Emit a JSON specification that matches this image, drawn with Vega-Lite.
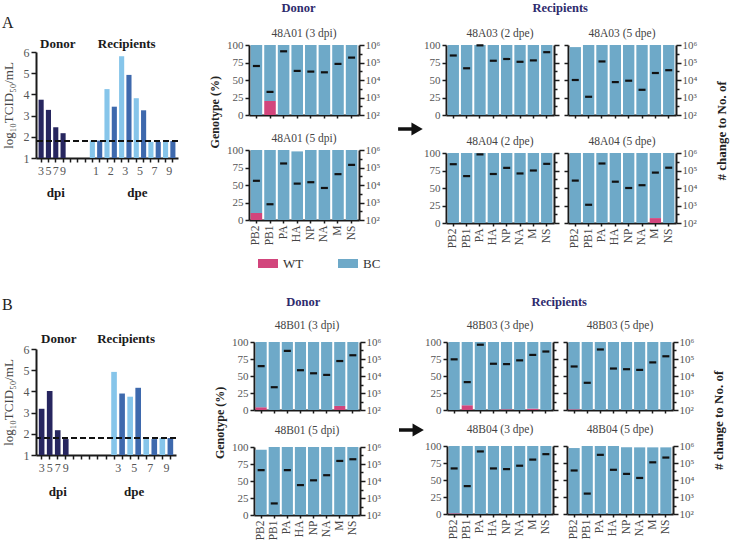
{
"$schema": "https://vega.github.io/schema/vega-lite/v6.json",
"background": "white",
"padding": {"left": 2, "top": 2, "right": 2, "bottom": 1},
"spacing": 25,
"resolve": {"scale": {"color": "independent"}},
"datasets": {
"titerA": [
{"slot":"d3","grp":"donor","v":3.75},{"slot":"d5","grp":"donor","v":3.27},{"slot":"d7","grp":"donor","v":2.45},{"slot":"d9","grp":"donor","v":2.17},
{"slot":"r1L","grp":"light","v":1.82},{"slot":"r1D","grp":"dark","v":1.82},{"slot":"r2L","grp":"light","v":4.25},{"slot":"r2D","grp":"dark","v":3.42},
{"slot":"r3L","grp":"light","v":5.8},{"slot":"r3D","grp":"dark","v":4.92},{"slot":"r5L","grp":"light","v":3.82},{"slot":"r5D","grp":"dark","v":3.25},
{"slot":"r7L","grp":"light","v":1.76},{"slot":"r7D","grp":"dark","v":1.76},{"slot":"r9L","grp":"light","v":1.78},{"slot":"r9D","grp":"dark","v":1.8}],
"titerB": [
{"slot":"d3","grp":"donor","v":3.18},{"slot":"d5","grp":"donor","v":4.02},{"slot":"d7","grp":"donor","v":2.17},{"slot":"d9","grp":"donor","v":1.75},
{"slot":"r3L","grp":"light","v":4.92},{"slot":"r3D","grp":"dark","v":3.9},{"slot":"r5L","grp":"light","v":3.75},{"slot":"r5D","grp":"dark","v":4.17},
{"slot":"r7L","grp":"light","v":1.75},{"slot":"r7D","grp":"dark","v":1.75},{"slot":"r9L","grp":"light","v":1.8},{"slot":"r9D","grp":"dark","v":1.8}],
"geno": [
{"s":"A01_3","g":"PB2","wt":0,"bc":100,"n":63100},{"s":"A01_3","g":"PB1","wt":20,"bc":80,"n":2090},{"s":"A01_3","g":"PA","wt":0,"bc":100,"n":436500},{"s":"A01_3","g":"HA","wt":0,"bc":100,"n":33100},{"s":"A01_3","g":"NP","wt":0,"bc":100,"n":30200},{"s":"A01_3","g":"NA","wt":0,"bc":100,"n":27500},{"s":"A01_3","g":"M","wt":0,"bc":100,"n":83200},{"s":"A01_3","g":"NS","wt":0,"bc":100,"n":190500},
{"s":"A01_5","g":"PB2","wt":10,"bc":90,"n":17400},{"s":"A01_5","g":"PB1","wt":0,"bc":100,"n":795},{"s":"A01_5","g":"PA","wt":0,"bc":100,"n":169800},{"s":"A01_5","g":"HA","wt":0,"bc":98,"n":12000},{"s":"A01_5","g":"NP","wt":0,"bc":100,"n":14450},{"s":"A01_5","g":"NA","wt":0,"bc":100,"n":6760},{"s":"A01_5","g":"M","wt":0,"bc":100,"n":41700},{"s":"A01_5","g":"NS","wt":0,"bc":100,"n":141300},
{"s":"A03_2","g":"PB2","wt":0,"bc":100,"n":251200},{"s":"A03_2","g":"PB1","wt":0,"bc":100,"n":46800},{"s":"A03_2","g":"PA","wt":0,"bc":100,"n":955000},{"s":"A03_2","g":"HA","wt":0,"bc":100,"n":125900},{"s":"A03_2","g":"NP","wt":0,"bc":100,"n":158500},{"s":"A03_2","g":"NA","wt":0,"bc":100,"n":109600},{"s":"A03_2","g":"M","wt":0,"bc":100,"n":131800},{"s":"A03_2","g":"NS","wt":0,"bc":100,"n":389000},
{"s":"A03_5","g":"PB2","wt":0,"bc":97,"n":10000},{"s":"A03_5","g":"PB1","wt":0,"bc":100,"n":1100},{"s":"A03_5","g":"PA","wt":0,"bc":100,"n":114800},{"s":"A03_5","g":"HA","wt":0,"bc":100,"n":7590},{"s":"A03_5","g":"NP","wt":0,"bc":100,"n":9120},{"s":"A03_5","g":"NA","wt":0,"bc":100,"n":2750},{"s":"A03_5","g":"M","wt":0,"bc":100,"n":25100},{"s":"A03_5","g":"NS","wt":0,"bc":100,"n":36300},
{"s":"A04_2","g":"PB2","wt":0,"bc":100,"n":229000},{"s":"A04_2","g":"PB1","wt":0,"bc":100,"n":47900},{"s":"A04_2","g":"PA","wt":0,"bc":100,"n":832000},{"s":"A04_2","g":"HA","wt":0,"bc":100,"n":63100},{"s":"A04_2","g":"NP","wt":0,"bc":100,"n":141300},{"s":"A04_2","g":"NA","wt":0,"bc":100,"n":67600},{"s":"A04_2","g":"M","wt":0,"bc":100,"n":100000},{"s":"A04_2","g":"NS","wt":0,"bc":100,"n":240000},
{"s":"A04_5","g":"PB2","wt":0,"bc":100,"n":26500},{"s":"A04_5","g":"PB1","wt":0,"bc":100,"n":1100},{"s":"A04_5","g":"PA","wt":0,"bc":100,"n":251200},{"s":"A04_5","g":"HA","wt":0,"bc":100,"n":22900},{"s":"A04_5","g":"NP","wt":0,"bc":100,"n":10000},{"s":"A04_5","g":"NA","wt":0,"bc":100,"n":14450},{"s":"A04_5","g":"M","wt":7,"bc":93,"n":75900},{"s":"A04_5","g":"NS","wt":0,"bc":100,"n":144500},
{"s":"B01_3","g":"PB2","wt":4,"bc":96,"n":38000},{"s":"B01_3","g":"PB1","wt":0,"bc":100,"n":2190},{"s":"B01_3","g":"PA","wt":0,"bc":100,"n":302000},{"s":"B01_3","g":"HA","wt":0,"bc":100,"n":21900},{"s":"B01_3","g":"NP","wt":0,"bc":100,"n":14450},{"s":"B01_3","g":"NA","wt":0,"bc":100,"n":11600},{"s":"B01_3","g":"M","wt":6,"bc":94,"n":75900},{"s":"B01_3","g":"NS","wt":0,"bc":100,"n":166000},
{"s":"B01_5","g":"PB2","wt":0,"bc":96,"n":43700},{"s":"B01_5","g":"PB1","wt":0,"bc":100,"n":479},{"s":"B01_5","g":"PA","wt":0,"bc":100,"n":43700},{"s":"B01_5","g":"HA","wt":0,"bc":100,"n":5750},{"s":"B01_5","g":"NP","wt":0,"bc":100,"n":10960},{"s":"B01_5","g":"NA","wt":0,"bc":100,"n":21900},{"s":"B01_5","g":"M","wt":0,"bc":100,"n":151400},{"s":"B01_5","g":"NS","wt":0,"bc":100,"n":190500},
{"s":"B03_3","g":"PB2","wt":0,"bc":100,"n":95500},{"s":"B03_3","g":"PB1","wt":7,"bc":93,"n":4370},{"s":"B03_3","g":"PA","wt":0,"bc":100,"n":692000},{"s":"B03_3","g":"HA","wt":0,"bc":100,"n":52500},{"s":"B03_3","g":"NP","wt":1,"bc":99,"n":50100},{"s":"B03_3","g":"NA","wt":0,"bc":100,"n":83200},{"s":"B03_3","g":"M","wt":2,"bc":98,"n":173800},{"s":"B03_3","g":"NS","wt":0,"bc":100,"n":275400},
{"s":"B03_5","g":"PB2","wt":1,"bc":99,"n":36300},{"s":"B03_5","g":"PB1","wt":0,"bc":100,"n":3980},{"s":"B03_5","g":"PA","wt":0,"bc":100,"n":363000},{"s":"B03_5","g":"HA","wt":0,"bc":100,"n":27500},{"s":"B03_5","g":"NP","wt":0,"bc":100,"n":25100},{"s":"B03_5","g":"NA","wt":0,"bc":100,"n":22900},{"s":"B03_5","g":"M","wt":0,"bc":100,"n":63100},{"s":"B03_5","g":"NS","wt":0,"bc":100,"n":144500},
{"s":"B04_3","g":"PB2","wt":1,"bc":99,"n":47900},{"s":"B04_3","g":"PB1","wt":0,"bc":100,"n":4370},{"s":"B04_3","g":"PA","wt":0,"bc":100,"n":478600},{"s":"B04_3","g":"HA","wt":0,"bc":100,"n":47900},{"s":"B04_3","g":"NP","wt":0,"bc":100,"n":43700},{"s":"B04_3","g":"NA","wt":0,"bc":100,"n":69200},{"s":"B04_3","g":"M","wt":0,"bc":100,"n":158500},{"s":"B04_3","g":"NS","wt":0,"bc":100,"n":331100},
{"s":"B04_5","g":"PB2","wt":0,"bc":97,"n":36300},{"s":"B04_5","g":"PB1","wt":0,"bc":100,"n":1585},{"s":"B04_5","g":"PA","wt":0,"bc":100,"n":302000},{"s":"B04_5","g":"HA","wt":0,"bc":100,"n":39800},{"s":"B04_5","g":"NP","wt":0,"bc":98,"n":22900},{"s":"B04_5","g":"NA","wt":0,"bc":98,"n":13200},{"s":"B04_5","g":"M","wt":0,"bc":98,"n":109600},{"s":"B04_5","g":"NS","wt":0,"bc":98,"n":208900}
]
},
"vconcat": [
{
"hconcat": [
{
"width": 142, "height": 113,
"title": {"text": "A", "anchor": "start", "frame": "bounds", "fontSize": 16, "color": "#222", "offset": 7},
"layer": [
{"data": {"name": "titerA"}, "mark": {"type": "bar"},
 "encoding": {
  "x": {"field": "slot", "type": "nominal", "scale": {"domain": ["d3","d5","d7","d9","g1","g2","g3","r1L","r1D","r2L","r2D","r3L","r3D","r5L","r5D","r7L","r7D","r9L","r9D"], "paddingInner": 0.3, "paddingOuter": 0.35},
   "axis": {"title": null, "labelAngle": 0, "labelFontSize": 12, "tickSize": 4, "labelPadding": 3,
    "labelExpr": "substring(datum.value,0,1)=='g' || substring(datum.value,2,3)=='D' ? '' : substring(datum.value,1,2)",
    "labelOffset": {"condition": {"test": "substring(datum.value,0,1)=='r'", "value": 3.7}, "value": 0}}},
  "y": {"field": "v", "type": "quantitative", "scale": {"domain": [1, 6], "range": [113, 7], "zero": false, "nice": false},
   "axis": {"values": [1,2,3,4,5,6], "labelOverlap": false, "labelSeparation": -30, "title": "log₁₀TCID₅₀/mL", "titleFontSize": 13, "titleFontWeight": "normal", "titleColor": "#444", "labelFontSize": 12, "tickSize": 5, "titlePadding": 8}},
  "y2": {"datum": 1},
  "color": {"field": "grp", "type": "nominal", "scale": {"domain": ["donor","light","dark"], "range": ["#27265f","#86c5ea","#3e69ad"]}, "legend": null}
 }},
{"data": {"values": [{}]}, "mark": {"type": "rule", "strokeDash": [6,3], "strokeWidth": 2, "color": "#111"}, "encoding": {"y": {"datum": 1.8, "type": "quantitative", "axis": {"values": [1,2,3,4,5,6], "labelOverlap": false, "labelSeparation": -30}}}},
{"data": {"values": [{}]}, "mark": {"type": "text", "fontWeight": "bold", "fontSize": 13, "color": "#1a1a1a", "dx": 2, "baseline": "middle"}, "encoding": {"x": {"datum": "d7", "type": "nominal"}, "y": {"datum": 6.38, "type": "quantitative", "axis": {"values": [1,2,3,4,5,6], "labelOverlap": false, "labelSeparation": -30}}, "text": {"value": "Donor"}}},
{"data": {"values": [{}]}, "mark": {"type": "text", "fontWeight": "bold", "fontSize": 13, "color": "#1a1a1a", "dx": 5, "baseline": "middle"}, "encoding": {"x": {"datum": "r3L", "type": "nominal"}, "y": {"datum": 6.38, "type": "quantitative", "axis": {"values": [1,2,3,4,5,6], "labelOverlap": false, "labelSeparation": -30}}, "text": {"value": "Recipients"}}},
{"data": {"values": [{}]}, "mark": {"type": "text", "fontWeight": "bold", "fontSize": 13, "color": "#1a1a1a", "baseline": "middle"}, "encoding": {"x": {"datum": "d7", "type": "nominal"}, "y": {"datum": -0.65, "type": "quantitative", "axis": {"values": [1,2,3,4,5,6], "labelOverlap": false, "labelSeparation": -30}}, "text": {"value": "dpi"}}},
{"data": {"values": [{}]}, "mark": {"type": "text", "fontWeight": "bold", "fontSize": 13, "color": "#1a1a1a", "dx": 1, "baseline": "middle"}, "encoding": {"x": {"datum": "r5L", "type": "nominal"}, "y": {"datum": -0.65, "type": "quantitative", "axis": {"values": [1,2,3,4,5,6], "labelOverlap": false, "labelSeparation": -30}}, "text": {"value": "dpe"}}}
]
},
{
"hconcat": [
{
"hconcat": [
{
"vconcat": [
{
"width": 110, "height": 70,
"title": {"text": "48A01 (3 dpi)", "offset": 0},
"layer": [
{"data": {"name": "geno"}, "transform": [{"filter": "datum.s==='A01_3'"}, {"fold": ["wt","bc"], "as": ["type","pct"]}], "mark": {"type": "bar"},
 "encoding": {"x": {"field": "g", "type": "nominal", "sort": ["PB2","PB1","PA","HA","NP","NA","M","NS"], "scale": {"paddingInner": 0.15, "paddingOuter": 0.12}, "axis": {"title": null, "labels": false, "tickSize": 3}},
  "y": {"field": "pct", "type": "quantitative", "stack": "zero", "scale": {"domain": [0,100], "nice": false}, "axis": {"title": null, "values": [0,25,50,75,100], "tickSize": 4, "labelPadding": 2}},
  "color": {"field": "type", "type": "nominal", "scale": {"domain": ["wt","bc"], "range": ["#d2457c","#6ea9c8"]}, "legend": null},
  "order": {"field": "type", "sort": "descending"}}},
{"data": {"name": "geno"}, "transform": [{"filter": "datum.s==='A01_3'"}], "mark": {"type": "tick", "color": "#111", "thickness": 2.2, "size": 7, "opacity": 1},
 "encoding": {"x": {"field": "g", "type": "nominal", "sort": ["PB2","PB1","PA","HA","NP","NA","M","NS"]},
  "y": {"field": "n", "type": "quantitative", "scale": {"type": "log", "domain": [100, 1000000]},
   "axis": {"orient": "right", "title": null, "values": [100,316.2,1000,3162,10000,31623,100000,316228,1000000], "labelOverlap": false, "labelPadding": 1,
    "labelExpr": "datum.value==100?'10²':datum.value==1000?'10³':datum.value==10000?'10⁴':datum.value==100000?'10⁵':datum.value==1000000?'10⁶':''",
    "tickSize": {"condition": {"test": "datum.value==100||datum.value==1000||datum.value==10000||datum.value==100000||datum.value==1000000", "value": 5}, "value": 3}}}}}
],
"resolve": {"scale": {"y": "independent"}}
},
{
"width": 110, "height": 70,
"title": {"text": "48A01 (5 dpi)", "offset": 0},
"layer": [
{"data": {"name": "geno"}, "transform": [{"filter": "datum.s==='A01_5'"}, {"fold": ["wt","bc"], "as": ["type","pct"]}], "mark": {"type": "bar"},
 "encoding": {"x": {"field": "g", "type": "nominal", "sort": ["PB2","PB1","PA","HA","NP","NA","M","NS"], "scale": {"paddingInner": 0.15, "paddingOuter": 0.12}, "axis": {"title": null, "labelAngle": -90, "labelFontSize": 11.5, "labelColor": "#444", "tickSize": 3, "labelPadding": 2}},
  "y": {"field": "pct", "type": "quantitative", "stack": "zero", "scale": {"domain": [0,100], "nice": false}, "axis": {"title": null, "values": [0,25,50,75,100], "tickSize": 4, "labelPadding": 2}},
  "color": {"field": "type", "type": "nominal", "scale": {"domain": ["wt","bc"], "range": ["#d2457c","#6ea9c8"]}, "legend": null},
  "order": {"field": "type", "sort": "descending"}}},
{"data": {"name": "geno"}, "transform": [{"filter": "datum.s==='A01_5'"}], "mark": {"type": "tick", "color": "#111", "thickness": 2.2, "size": 7, "opacity": 1},
 "encoding": {"x": {"field": "g", "type": "nominal", "sort": ["PB2","PB1","PA","HA","NP","NA","M","NS"]},
  "y": {"field": "n", "type": "quantitative", "scale": {"type": "log", "domain": [100, 1000000]},
   "axis": {"orient": "right", "title": null, "values": [100,316.2,1000,3162,10000,31623,100000,316228,1000000], "labelOverlap": false, "labelPadding": 1,
    "labelExpr": "datum.value==100?'10²':datum.value==1000?'10³':datum.value==10000?'10⁴':datum.value==100000?'10⁵':datum.value==1000000?'10⁶':''",
    "tickSize": {"condition": {"test": "datum.value==100||datum.value==1000||datum.value==10000||datum.value==100000||datum.value==1000000", "value": 5}, "value": 3}}}}}
],
"resolve": {"scale": {"y": "independent"}}
},
{
"width": 130, "height": 9,
"data": {"values": [{"k": "WT"}, {"k": "BC"}]},
"layer": [
{"mark": {"type": "bar", "width": 20},
 "encoding": {"x": {"field": "k", "type": "nominal", "sort": ["WT","BC"], "scale": {"type": "point", "range": [19, 99], "padding": 0}, "axis": null},
  "color": {"field": "k", "type": "nominal", "scale": {"domain": ["WT","BC"], "range": ["#d2457c","#6ea9c8"]}, "legend": null}}},
{"mark": {"type": "text", "align": "left", "dx": 15, "fontSize": 13, "color": "#333", "baseline": "middle"},
 "encoding": {"x": {"field": "k", "type": "nominal", "sort": ["WT","BC"]}, "y": {"value": 4.5}, "text": {"field": "k"}}}
]
}
],
"spacing": 12,
"title": {"text": "Donor", "anchor": "middle", "frame": "bounds", "fontSize": 12.5, "fontWeight": "bold", "color": "#2e2b6d", "offset": 13, "dx": -5},
"resolve": {"scale": {"color": "independent"}}
}
],
"title": {"text": "Genotype (%)", "orient": "left", "anchor": "middle", "frame": "bounds", "fontSize": 12, "fontWeight": "bold", "color": "#222", "offset": 5, "dx": 24},
"resolve": {"scale": {"color": "independent"}}
},
{
"width": 38, "height": 168,
"data": {"values": [{}]},
"layer": [
{"mark": {"type": "rule", "strokeWidth": 3.5, "color": "#111"},
 "encoding": {"x": {"datum": 0.45, "type": "quantitative", "scale": {"domain": [0, 1], "nice": false, "zero": false}, "axis": null}, "x2": {"datum": 0.85},
  "y": {"datum": 0.5, "type": "quantitative", "scale": {"domain": [0, 1], "nice": false, "zero": false}, "axis": null}}},
{"mark": {"type": "point", "shape": "triangle-right", "filled": true, "size": 170, "color": "#111", "opacity": 1},
 "encoding": {"x": {"datum": 0.95, "type": "quantitative"}, "y": {"datum": 0.5, "type": "quantitative"}}}
]
},
{
"hconcat": [
{
"concat": [
{
"width": 108, "height": 70,
"title": {"text": "48A03 (2 dpe)", "offset": 0},
"layer": [
{"data": {"name": "geno"}, "transform": [{"filter": "datum.s==='A03_2'"}, {"fold": ["wt","bc"], "as": ["type","pct"]}], "mark": {"type": "bar"},
 "encoding": {"x": {"field": "g", "type": "nominal", "sort": ["PB2","PB1","PA","HA","NP","NA","M","NS"], "scale": {"paddingInner": 0.15, "paddingOuter": 0.12}, "axis": {"title": null, "labels": false, "tickSize": 3}},
  "y": {"field": "pct", "type": "quantitative", "stack": "zero", "scale": {"domain": [0,100], "nice": false}, "axis": {"title": null, "values": [0,25,50,75,100], "tickSize": 4, "labelPadding": 2}},
  "color": {"field": "type", "type": "nominal", "scale": {"domain": ["wt","bc"], "range": ["#d2457c","#6ea9c8"]}, "legend": null},
  "order": {"field": "type", "sort": "descending"}}},
{"data": {"name": "geno"}, "transform": [{"filter": "datum.s==='A03_2'"}], "mark": {"type": "tick", "color": "#111", "thickness": 2.2, "size": 7, "opacity": 1},
 "encoding": {"x": {"field": "g", "type": "nominal", "sort": ["PB2","PB1","PA","HA","NP","NA","M","NS"]},
  "y": {"field": "n", "type": "quantitative", "scale": {"type": "log", "domain": [100, 1000000]},
   "axis": {"orient": "right", "title": null, "labels": false, "values": [100,316.2,1000,3162,10000,31623,100000,316228,1000000],
    "tickSize": {"condition": {"test": "datum.value==100||datum.value==1000||datum.value==10000||datum.value==100000||datum.value==1000000", "value": 5}, "value": 3}}}}}
],
"resolve": {"scale": {"y": "independent"}}
},
{
"width": 108, "height": 70,
"title": {"text": "48A03 (5 dpe)", "offset": 0},
"layer": [
{"data": {"name": "geno"}, "transform": [{"filter": "datum.s==='A03_5'"}, {"fold": ["wt","bc"], "as": ["type","pct"]}], "mark": {"type": "bar"},
 "encoding": {"x": {"field": "g", "type": "nominal", "sort": ["PB2","PB1","PA","HA","NP","NA","M","NS"], "scale": {"paddingInner": 0.15, "paddingOuter": 0.12}, "axis": {"title": null, "labels": false, "tickSize": 3}},
  "y": {"field": "pct", "type": "quantitative", "stack": "zero", "scale": {"domain": [0,100], "nice": false}, "axis": {"title": null, "values": [0,25,50,75,100], "tickSize": 4, "labels": false}},
  "color": {"field": "type", "type": "nominal", "scale": {"domain": ["wt","bc"], "range": ["#d2457c","#6ea9c8"]}, "legend": null},
  "order": {"field": "type", "sort": "descending"}}},
{"data": {"name": "geno"}, "transform": [{"filter": "datum.s==='A03_5'"}], "mark": {"type": "tick", "color": "#111", "thickness": 2.2, "size": 7, "opacity": 1},
 "encoding": {"x": {"field": "g", "type": "nominal", "sort": ["PB2","PB1","PA","HA","NP","NA","M","NS"]},
  "y": {"field": "n", "type": "quantitative", "scale": {"type": "log", "domain": [100, 1000000]},
   "axis": {"orient": "right", "title": null, "values": [100,316.2,1000,3162,10000,31623,100000,316228,1000000], "labelOverlap": false, "labelPadding": 1,
    "labelExpr": "datum.value==100?'10²':datum.value==1000?'10³':datum.value==10000?'10⁴':datum.value==100000?'10⁵':datum.value==1000000?'10⁶':''",
    "tickSize": {"condition": {"test": "datum.value==100||datum.value==1000||datum.value==10000||datum.value==100000||datum.value==1000000", "value": 5}, "value": 3}}}}}
],
"resolve": {"scale": {"y": "independent"}}
},
{
"width": 108, "height": 70,
"title": {"text": "48A04 (2 dpe)", "offset": 0},
"layer": [
{"data": {"name": "geno"}, "transform": [{"filter": "datum.s==='A04_2'"}, {"fold": ["wt","bc"], "as": ["type","pct"]}], "mark": {"type": "bar"},
 "encoding": {"x": {"field": "g", "type": "nominal", "sort": ["PB2","PB1","PA","HA","NP","NA","M","NS"], "scale": {"paddingInner": 0.15, "paddingOuter": 0.12}, "axis": {"title": null, "labelAngle": -90, "labelFontSize": 11.5, "labelColor": "#444", "tickSize": 3, "labelPadding": 2}},
  "y": {"field": "pct", "type": "quantitative", "stack": "zero", "scale": {"domain": [0,100], "nice": false}, "axis": {"title": null, "values": [0,25,50,75,100], "tickSize": 4, "labelPadding": 2}},
  "color": {"field": "type", "type": "nominal", "scale": {"domain": ["wt","bc"], "range": ["#d2457c","#6ea9c8"]}, "legend": null},
  "order": {"field": "type", "sort": "descending"}}},
{"data": {"name": "geno"}, "transform": [{"filter": "datum.s==='A04_2'"}], "mark": {"type": "tick", "color": "#111", "thickness": 2.2, "size": 7, "opacity": 1},
 "encoding": {"x": {"field": "g", "type": "nominal", "sort": ["PB2","PB1","PA","HA","NP","NA","M","NS"]},
  "y": {"field": "n", "type": "quantitative", "scale": {"type": "log", "domain": [100, 1000000]},
   "axis": {"orient": "right", "title": null, "labels": false, "values": [100,316.2,1000,3162,10000,31623,100000,316228,1000000],
    "tickSize": {"condition": {"test": "datum.value==100||datum.value==1000||datum.value==10000||datum.value==100000||datum.value==1000000", "value": 5}, "value": 3}}}}}
],
"resolve": {"scale": {"y": "independent"}}
},
{
"width": 108, "height": 70,
"title": {"text": "48A04 (5 dpe)", "offset": 0},
"layer": [
{"data": {"name": "geno"}, "transform": [{"filter": "datum.s==='A04_5'"}, {"fold": ["wt","bc"], "as": ["type","pct"]}], "mark": {"type": "bar"},
 "encoding": {"x": {"field": "g", "type": "nominal", "sort": ["PB2","PB1","PA","HA","NP","NA","M","NS"], "scale": {"paddingInner": 0.15, "paddingOuter": 0.12}, "axis": {"title": null, "labelAngle": -90, "labelFontSize": 11.5, "labelColor": "#444", "tickSize": 3, "labelPadding": 2}},
  "y": {"field": "pct", "type": "quantitative", "stack": "zero", "scale": {"domain": [0,100], "nice": false}, "axis": {"title": null, "values": [0,25,50,75,100], "tickSize": 4, "labels": false}},
  "color": {"field": "type", "type": "nominal", "scale": {"domain": ["wt","bc"], "range": ["#d2457c","#6ea9c8"]}, "legend": null},
  "order": {"field": "type", "sort": "descending"}}},
{"data": {"name": "geno"}, "transform": [{"filter": "datum.s==='A04_5'"}], "mark": {"type": "tick", "color": "#111", "thickness": 2.2, "size": 7, "opacity": 1},
 "encoding": {"x": {"field": "g", "type": "nominal", "sort": ["PB2","PB1","PA","HA","NP","NA","M","NS"]},
  "y": {"field": "n", "type": "quantitative", "scale": {"type": "log", "domain": [100, 1000000]},
   "axis": {"orient": "right", "title": null, "values": [100,316.2,1000,3162,10000,31623,100000,316228,1000000], "labelOverlap": false, "labelPadding": 1,
    "labelExpr": "datum.value==100?'10²':datum.value==1000?'10³':datum.value==10000?'10⁴':datum.value==100000?'10⁵':datum.value==1000000?'10⁶':''",
    "tickSize": {"condition": {"test": "datum.value==100||datum.value==1000||datum.value==10000||datum.value==100000||datum.value==1000000", "value": 5}, "value": 3}}}}}
],
"resolve": {"scale": {"y": "independent"}}
}
],
"columns": 2,
"spacing": {"row": 15, "column": 3},
"title": {"text": "Recipients", "anchor": "middle", "frame": "bounds", "fontSize": 12.5, "fontWeight": "bold", "color": "#2e2b6d", "offset": 13},
"resolve": {"scale": {"color": "independent"}}
}
],
"title": {"text": "# change to No. of", "orient": "right", "anchor": "middle", "frame": "bounds", "angle": 270, "baseline": "top", "fontSize": 13, "fontWeight": "bold", "color": "#222", "offset": 6, "dx": -6},
"resolve": {"scale": {"color": "independent"}}
}
],
"spacing": 0,
"resolve": {"scale": {"color": "independent"}}
}
],
"spacing": 29,
"resolve": {"scale": {"color": "independent"}}
},
{
"hconcat": [
{
"width": 140, "height": 113,
"title": {"text": "B", "anchor": "start", "frame": "bounds", "fontSize": 16, "color": "#222", "offset": 20},
"layer": [
{"data": {"name": "titerB"}, "mark": {"type": "bar"},
 "encoding": {
  "x": {"field": "slot", "type": "nominal", "scale": {"domain": ["d3","d5","d7","d9","g1","g2","g3","g4","g5","r3L","r3D","r5L","r5D","r7L","r7D","r9L","r9D"], "paddingInner": 0.3, "paddingOuter": 0.35},
   "axis": {"title": null, "labelAngle": 0, "labelFontSize": 12, "tickSize": 4, "labelPadding": 3,
    "labelExpr": "substring(datum.value,0,1)=='g' || substring(datum.value,2,3)=='D' ? '' : substring(datum.value,1,2)",
    "labelOffset": {"condition": {"test": "substring(datum.value,0,1)=='r'", "value": 4.1}, "value": 0}}},
  "y": {"field": "v", "type": "quantitative", "scale": {"domain": [1, 6], "range": [113, 7], "zero": false, "nice": false},
   "axis": {"values": [1,2,3,4,5,6], "labelOverlap": false, "labelSeparation": -30, "title": "log₁₀TCID₅₀/mL", "titleFontSize": 13, "titleFontWeight": "normal", "titleColor": "#444", "labelFontSize": 12, "tickSize": 5, "titlePadding": 8}},
  "y2": {"datum": 1},
  "color": {"field": "grp", "type": "nominal", "scale": {"domain": ["donor","light","dark"], "range": ["#27265f","#86c5ea","#3e69ad"]}, "legend": null}
 }},
{"data": {"values": [{}]}, "mark": {"type": "rule", "strokeDash": [6,3], "strokeWidth": 2, "color": "#111"}, "encoding": {"y": {"datum": 1.8, "type": "quantitative", "axis": {"values": [1,2,3,4,5,6], "labelOverlap": false, "labelSeparation": -30}}}},
{"data": {"values": [{}]}, "mark": {"type": "text", "fontWeight": "bold", "fontSize": 13, "color": "#1a1a1a", "dx": 1, "baseline": "middle"}, "encoding": {"x": {"datum": "d7", "type": "nominal"}, "y": {"datum": 6.47, "type": "quantitative", "axis": {"values": [1,2,3,4,5,6], "labelOverlap": false, "labelSeparation": -30}}, "text": {"value": "Donor"}}},
{"data": {"values": [{}]}, "mark": {"type": "text", "fontWeight": "bold", "fontSize": 13, "color": "#1a1a1a", "dx": 4, "baseline": "middle"}, "encoding": {"x": {"datum": "r3D", "type": "nominal"}, "y": {"datum": 6.47, "type": "quantitative", "axis": {"values": [1,2,3,4,5,6], "labelOverlap": false, "labelSeparation": -30}}, "text": {"value": "Recipients"}}},
{"data": {"values": [{}]}, "mark": {"type": "text", "fontWeight": "bold", "fontSize": 13, "color": "#1a1a1a", "baseline": "middle"}, "encoding": {"x": {"datum": "d7", "type": "nominal"}, "y": {"datum": -0.75, "type": "quantitative", "axis": {"values": [1,2,3,4,5,6], "labelOverlap": false, "labelSeparation": -30}}, "text": {"value": "dpi"}}},
{"data": {"values": [{}]}, "mark": {"type": "text", "fontWeight": "bold", "fontSize": 13, "color": "#1a1a1a", "dx": 4, "baseline": "middle"}, "encoding": {"x": {"datum": "r5L", "type": "nominal"}, "y": {"datum": -0.75, "type": "quantitative", "axis": {"values": [1,2,3,4,5,6], "labelOverlap": false, "labelSeparation": -30}}, "text": {"value": "dpe"}}}
]
},
{
"hconcat": [
{
"hconcat": [
{
"vconcat": [
{
"width": 106, "height": 68,
"title": {"text": "48B01 (3 dpi)", "offset": 5},
"layer": [
{"data": {"name": "geno"}, "transform": [{"filter": "datum.s==='B01_3'"}, {"fold": ["wt","bc"], "as": ["type","pct"]}], "mark": {"type": "bar"},
 "encoding": {"x": {"field": "g", "type": "nominal", "sort": ["PB2","PB1","PA","HA","NP","NA","M","NS"], "scale": {"paddingInner": 0.15, "paddingOuter": 0.12}, "axis": {"title": null, "labels": false, "tickSize": 3}},
  "y": {"field": "pct", "type": "quantitative", "stack": "zero", "scale": {"domain": [0,100], "nice": false}, "axis": {"title": null, "values": [0,25,50,75,100], "tickSize": 4, "labelPadding": 2}},
  "color": {"field": "type", "type": "nominal", "scale": {"domain": ["wt","bc"], "range": ["#d2457c","#6ea9c8"]}, "legend": null},
  "order": {"field": "type", "sort": "descending"}}},
{"data": {"name": "geno"}, "transform": [{"filter": "datum.s==='B01_3'"}], "mark": {"type": "tick", "color": "#111", "thickness": 2.2, "size": 7, "opacity": 1},
 "encoding": {"x": {"field": "g", "type": "nominal", "sort": ["PB2","PB1","PA","HA","NP","NA","M","NS"]},
  "y": {"field": "n", "type": "quantitative", "scale": {"type": "log", "domain": [100, 1000000]},
   "axis": {"orient": "right", "title": null, "values": [100,316.2,1000,3162,10000,31623,100000,316228,1000000], "labelOverlap": false, "labelPadding": 1,
    "labelExpr": "datum.value==100?'10²':datum.value==1000?'10³':datum.value==10000?'10⁴':datum.value==100000?'10⁵':datum.value==1000000?'10⁶':''",
    "tickSize": {"condition": {"test": "datum.value==100||datum.value==1000||datum.value==10000||datum.value==100000||datum.value==1000000", "value": 5}, "value": 3}}}}}
],
"resolve": {"scale": {"y": "independent"}}
},
{
"width": 106, "height": 68,
"title": {"text": "48B01 (5 dpi)", "offset": 5},
"layer": [
{"data": {"name": "geno"}, "transform": [{"filter": "datum.s==='B01_5'"}, {"fold": ["wt","bc"], "as": ["type","pct"]}], "mark": {"type": "bar"},
 "encoding": {"x": {"field": "g", "type": "nominal", "sort": ["PB2","PB1","PA","HA","NP","NA","M","NS"], "scale": {"paddingInner": 0.15, "paddingOuter": 0.12}, "axis": {"title": null, "labelAngle": -90, "labelFontSize": 11.5, "labelColor": "#444", "tickSize": 3, "labelPadding": 2}},
  "y": {"field": "pct", "type": "quantitative", "stack": "zero", "scale": {"domain": [0,100], "nice": false}, "axis": {"title": null, "values": [0,25,50,75,100], "tickSize": 4, "labelPadding": 2}},
  "color": {"field": "type", "type": "nominal", "scale": {"domain": ["wt","bc"], "range": ["#d2457c","#6ea9c8"]}, "legend": null},
  "order": {"field": "type", "sort": "descending"}}},
{"data": {"name": "geno"}, "transform": [{"filter": "datum.s==='B01_5'"}], "mark": {"type": "tick", "color": "#111", "thickness": 2.2, "size": 7, "opacity": 1},
 "encoding": {"x": {"field": "g", "type": "nominal", "sort": ["PB2","PB1","PA","HA","NP","NA","M","NS"]},
  "y": {"field": "n", "type": "quantitative", "scale": {"type": "log", "domain": [100, 1000000]},
   "axis": {"orient": "right", "title": null, "values": [100,316.2,1000,3162,10000,31623,100000,316228,1000000], "labelOverlap": false, "labelPadding": 1,
    "labelExpr": "datum.value==100?'10²':datum.value==1000?'10³':datum.value==10000?'10⁴':datum.value==100000?'10⁵':datum.value==1000000?'10⁶':''",
    "tickSize": {"condition": {"test": "datum.value==100||datum.value==1000||datum.value==10000||datum.value==100000||datum.value==1000000", "value": 5}, "value": 3}}}}}
],
"resolve": {"scale": {"y": "independent"}}
}
],
"spacing": 9,
"title": {"text": "Donor", "anchor": "middle", "frame": "bounds", "fontSize": 12.5, "fontWeight": "bold", "color": "#2e2b6d", "offset": 11, "dx": -3},
"resolve": {"scale": {"color": "independent"}}
}
],
"title": {"text": "Genotype (%)", "orient": "left", "anchor": "middle", "frame": "bounds", "fontSize": 12, "fontWeight": "bold", "color": "#222", "offset": 5, "dx": -5},
"resolve": {"scale": {"color": "independent"}}
},
{
"width": 40, "height": 176,
"data": {"values": [{}]},
"layer": [
{"mark": {"type": "rule", "strokeWidth": 3.5, "color": "#111"},
 "encoding": {"x": {"datum": 0.45, "type": "quantitative", "scale": {"domain": [0, 1], "nice": false, "zero": false}, "axis": null}, "x2": {"datum": 0.85},
  "y": {"datum": 0.5, "type": "quantitative", "scale": {"domain": [0, 1], "nice": false, "zero": false}, "axis": null}}},
{"mark": {"type": "point", "shape": "triangle-right", "filled": true, "size": 170, "color": "#111", "opacity": 1},
 "encoding": {"x": {"datum": 0.93, "type": "quantitative"}, "y": {"datum": 0.5, "type": "quantitative"}}}
]
},
{
"hconcat": [
{
"concat": [
{
"width": 106, "height": 68,
"title": {"text": "48B03 (3 dpe)", "offset": 5},
"layer": [
{"data": {"name": "geno"}, "transform": [{"filter": "datum.s==='B03_3'"}, {"fold": ["wt","bc"], "as": ["type","pct"]}], "mark": {"type": "bar"},
 "encoding": {"x": {"field": "g", "type": "nominal", "sort": ["PB2","PB1","PA","HA","NP","NA","M","NS"], "scale": {"paddingInner": 0.15, "paddingOuter": 0.12}, "axis": {"title": null, "labels": false, "tickSize": 3}},
  "y": {"field": "pct", "type": "quantitative", "stack": "zero", "scale": {"domain": [0,100], "nice": false}, "axis": {"title": null, "values": [0,25,50,75,100], "tickSize": 4, "labelPadding": 2}},
  "color": {"field": "type", "type": "nominal", "scale": {"domain": ["wt","bc"], "range": ["#d2457c","#6ea9c8"]}, "legend": null},
  "order": {"field": "type", "sort": "descending"}}},
{"data": {"name": "geno"}, "transform": [{"filter": "datum.s==='B03_3'"}], "mark": {"type": "tick", "color": "#111", "thickness": 2.2, "size": 7, "opacity": 1},
 "encoding": {"x": {"field": "g", "type": "nominal", "sort": ["PB2","PB1","PA","HA","NP","NA","M","NS"]},
  "y": {"field": "n", "type": "quantitative", "scale": {"type": "log", "domain": [100, 1000000]},
   "axis": {"orient": "right", "title": null, "labels": false, "values": [100,316.2,1000,3162,10000,31623,100000,316228,1000000],
    "tickSize": {"condition": {"test": "datum.value==100||datum.value==1000||datum.value==10000||datum.value==100000||datum.value==1000000", "value": 5}, "value": 3}}}}}
],
"resolve": {"scale": {"y": "independent"}}
},
{
"width": 106, "height": 68,
"title": {"text": "48B03 (5 dpe)", "offset": 5},
"layer": [
{"data": {"name": "geno"}, "transform": [{"filter": "datum.s==='B03_5'"}, {"fold": ["wt","bc"], "as": ["type","pct"]}], "mark": {"type": "bar"},
 "encoding": {"x": {"field": "g", "type": "nominal", "sort": ["PB2","PB1","PA","HA","NP","NA","M","NS"], "scale": {"paddingInner": 0.15, "paddingOuter": 0.12}, "axis": {"title": null, "labels": false, "tickSize": 3}},
  "y": {"field": "pct", "type": "quantitative", "stack": "zero", "scale": {"domain": [0,100], "nice": false}, "axis": {"title": null, "values": [0,25,50,75,100], "tickSize": 4, "labels": false}},
  "color": {"field": "type", "type": "nominal", "scale": {"domain": ["wt","bc"], "range": ["#d2457c","#6ea9c8"]}, "legend": null},
  "order": {"field": "type", "sort": "descending"}}},
{"data": {"name": "geno"}, "transform": [{"filter": "datum.s==='B03_5'"}], "mark": {"type": "tick", "color": "#111", "thickness": 2.2, "size": 7, "opacity": 1},
 "encoding": {"x": {"field": "g", "type": "nominal", "sort": ["PB2","PB1","PA","HA","NP","NA","M","NS"]},
  "y": {"field": "n", "type": "quantitative", "scale": {"type": "log", "domain": [100, 1000000]},
   "axis": {"orient": "right", "title": null, "values": [100,316.2,1000,3162,10000,31623,100000,316228,1000000], "labelOverlap": false, "labelPadding": 1,
    "labelExpr": "datum.value==100?'10²':datum.value==1000?'10³':datum.value==10000?'10⁴':datum.value==100000?'10⁵':datum.value==1000000?'10⁶':''",
    "tickSize": {"condition": {"test": "datum.value==100||datum.value==1000||datum.value==10000||datum.value==100000||datum.value==1000000", "value": 5}, "value": 3}}}}}
],
"resolve": {"scale": {"y": "independent"}}
},
{
"width": 106, "height": 68,
"title": {"text": "48B04 (3 dpe)", "offset": 5},
"layer": [
{"data": {"name": "geno"}, "transform": [{"filter": "datum.s==='B04_3'"}, {"fold": ["wt","bc"], "as": ["type","pct"]}], "mark": {"type": "bar"},
 "encoding": {"x": {"field": "g", "type": "nominal", "sort": ["PB2","PB1","PA","HA","NP","NA","M","NS"], "scale": {"paddingInner": 0.15, "paddingOuter": 0.12}, "axis": {"title": null, "labelAngle": -90, "labelFontSize": 11.5, "labelColor": "#444", "tickSize": 3, "labelPadding": 2}},
  "y": {"field": "pct", "type": "quantitative", "stack": "zero", "scale": {"domain": [0,100], "nice": false}, "axis": {"title": null, "values": [0,25,50,75,100], "tickSize": 4, "labelPadding": 2}},
  "color": {"field": "type", "type": "nominal", "scale": {"domain": ["wt","bc"], "range": ["#d2457c","#6ea9c8"]}, "legend": null},
  "order": {"field": "type", "sort": "descending"}}},
{"data": {"name": "geno"}, "transform": [{"filter": "datum.s==='B04_3'"}], "mark": {"type": "tick", "color": "#111", "thickness": 2.2, "size": 7, "opacity": 1},
 "encoding": {"x": {"field": "g", "type": "nominal", "sort": ["PB2","PB1","PA","HA","NP","NA","M","NS"]},
  "y": {"field": "n", "type": "quantitative", "scale": {"type": "log", "domain": [100, 1000000]},
   "axis": {"orient": "right", "title": null, "labels": false, "values": [100,316.2,1000,3162,10000,31623,100000,316228,1000000],
    "tickSize": {"condition": {"test": "datum.value==100||datum.value==1000||datum.value==10000||datum.value==100000||datum.value==1000000", "value": 5}, "value": 3}}}}}
],
"resolve": {"scale": {"y": "independent"}}
},
{
"width": 106, "height": 68,
"title": {"text": "48B04 (5 dpe)", "offset": 5},
"layer": [
{"data": {"name": "geno"}, "transform": [{"filter": "datum.s==='B04_5'"}, {"fold": ["wt","bc"], "as": ["type","pct"]}], "mark": {"type": "bar"},
 "encoding": {"x": {"field": "g", "type": "nominal", "sort": ["PB2","PB1","PA","HA","NP","NA","M","NS"], "scale": {"paddingInner": 0.15, "paddingOuter": 0.12}, "axis": {"title": null, "labelAngle": -90, "labelFontSize": 11.5, "labelColor": "#444", "tickSize": 3, "labelPadding": 2}},
  "y": {"field": "pct", "type": "quantitative", "stack": "zero", "scale": {"domain": [0,100], "nice": false}, "axis": {"title": null, "values": [0,25,50,75,100], "tickSize": 4, "labels": false}},
  "color": {"field": "type", "type": "nominal", "scale": {"domain": ["wt","bc"], "range": ["#d2457c","#6ea9c8"]}, "legend": null},
  "order": {"field": "type", "sort": "descending"}}},
{"data": {"name": "geno"}, "transform": [{"filter": "datum.s==='B04_5'"}], "mark": {"type": "tick", "color": "#111", "thickness": 2.2, "size": 7, "opacity": 1},
 "encoding": {"x": {"field": "g", "type": "nominal", "sort": ["PB2","PB1","PA","HA","NP","NA","M","NS"]},
  "y": {"field": "n", "type": "quantitative", "scale": {"type": "log", "domain": [100, 1000000]},
   "axis": {"orient": "right", "title": null, "values": [100,316.2,1000,3162,10000,31623,100000,316228,1000000], "labelOverlap": false, "labelPadding": 1,
    "labelExpr": "datum.value==100?'10²':datum.value==1000?'10³':datum.value==10000?'10⁴':datum.value==100000?'10⁵':datum.value==1000000?'10⁶':''",
    "tickSize": {"condition": {"test": "datum.value==100||datum.value==1000||datum.value==10000||datum.value==100000||datum.value==1000000", "value": 5}, "value": 3}}}}}
],
"resolve": {"scale": {"y": "independent"}}
}
],
"columns": 2,
"spacing": {"row": 8, "column": 3},
"title": {"text": "Recipients", "anchor": "middle", "frame": "bounds", "fontSize": 12.5, "fontWeight": "bold", "color": "#2e2b6d", "offset": 11},
"resolve": {"scale": {"color": "independent"}}
}
],
"title": {"text": "# change to No. of", "orient": "right", "anchor": "middle", "frame": "bounds", "angle": 270, "baseline": "top", "fontSize": 13, "fontWeight": "bold", "color": "#222", "offset": 6, "dx": -3},
"resolve": {"scale": {"color": "independent"}}
}
],
"spacing": 0,
"resolve": {"scale": {"color": "independent"}}
}
],
"spacing": 36,
"resolve": {"scale": {"color": "independent"}}
}
],
"config": {
"font": "Liberation Serif",
"view": {"stroke": null},
"axis": {"domainColor": "#1a1a1a", "domainWidth": 2, "tickColor": "#1a1a1a", "tickWidth": 1.5, "labelColor": "#555", "labelFont": "Liberation Serif", "labelFontSize": 11, "grid": false, "titleFont": "Liberation Serif"},
"axisY": {"labelOverlap": false},
"title": {"font": "Liberation Serif", "fontWeight": "normal", "color": "#444", "fontSize": 11.5}
}
}
